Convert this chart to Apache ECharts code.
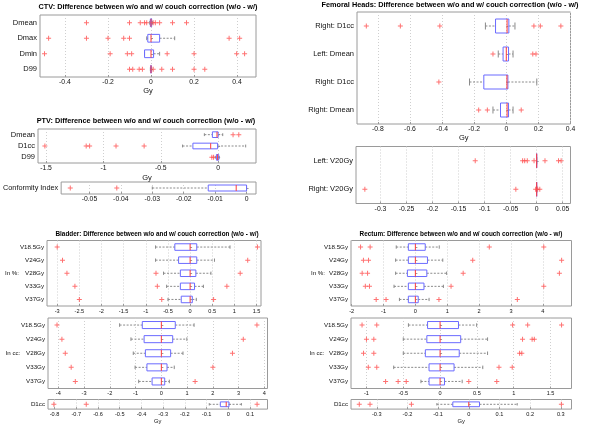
<!DOCTYPE html>
<html><head><meta charset="utf-8">
<script src="https://cdn.jsdelivr.net/npm/echarts@6/dist/echarts.min.js"></script>
<style>html,body{margin:0;padding:0;background:#fff}#c{width:600px;height:425px}</style>
</head><body><div id="c"></div>
<script>
// ---------------- DATA ----------------
// box rows: [lower whisker, Q1, median, Q3, upper whisker]
const ctvCats = ['Dmean', 'Dmax', 'Dmin', 'D99'];
const ctvBox = [
  [-0.006, -0.003, 0, 0.003, 0.006],
  [-0.02, -0.015, 0, 0.04, 0.11],
  [-0.03, -0.03, 0, 0.012, 0.04],
  [-0.003, -0.001, 0, 0.001, 0.003]
];
const ctvOut = [
  [-0.30, -0.10, -0.05, -0.03, -0.02, 0.01, 0.02, 0.04, 0.10, 0.165],
  [-0.476, -0.30, -0.20, -0.127, -0.10, 0.363, 0.412],
  [-0.495, -0.19, -0.11, -0.09, 0.075, 0.20, 0.398, 0.435],
  [-0.10, -0.085, -0.055, -0.04, 0.01, 0.05, 0.10, 0.20, 0.25]
];
const ctvTicks = [-0.4, -0.2, 0, 0.2, 0.4];

const ptvCats = ['Dmean', 'D1cc', 'D99'];
const ptvBox = [
  [-0.12, -0.05, -0.01, 0.0, 0.04],
  [-0.31, -0.22, -0.065, -0.005, 0.24],
  [-0.025, -0.015, -0.005, 0.005, 0.01]
];
const ptvOut = [
  [0.13, 0.18],
  [-1.51, -1.15, -1.12, -0.89, -0.645],
  [-0.055, -0.04]
];
const ptvTicks = [-1.5, -1, -0.5, 0];

const ciCats = ['Conformity Index'];
const ciBox = [[-0.03, -0.0122, -0.0033, 0, 0]];
const ciOut = [[-0.0561, -0.0413]];
const ciTicks = [-0.05, -0.04, -0.03, -0.02, -0.01, 0];

const volCats = ['V18.5Gy', 'V24Gy', 'V28Gy', 'V33Gy', 'V37Gy'];

const bladPctBox = [
  [-0.78, -0.345, 0, 0.15, 0.9],
  [-0.78, -0.26, 0, 0.15, 0.55],
  [-0.6, -0.22, 0, 0.13, 0.47],
  [-0.53, -0.22, 0, 0.1, 0.3],
  [-0.5, -0.2, 0, 0.05, 0.14]
];
const bladPctOut = [
  [-3.0, 1.52],
  [-2.88, 1.3],
  [-2.78, -0.77, 1.13],
  [-2.6, -0.74, 0.83],
  [-2.5, -0.64, 0.53]
];
const bladPctTicks = [-3, -2.5, -2, -1.5, -1, -0.5, 0, 0.5, 1, 1.5];

const bladCcBox = [
  [-1.62, -0.74, 0, 0.54, 1.27],
  [-1.18, -0.67, 0, 0.44, 0.99],
  [-1.09, -0.62, 0, 0.36, 0.84],
  [-1.02, -0.56, 0, 0.22, 0.5],
  [-0.88, -0.36, 0, 0.13, 0.31]
];
const bladCcOut = [
  [-4.05, 3.71],
  [-3.86, 3.18],
  [-3.73, 2.76],
  [-3.5, 2.0],
  [-3.34, 1.31]
];
const bladCcTicks = [-4, -3, -2, -1, 0, 1, 2, 3, 4];

const d1ccCats = ['D1cc'];
const bladD1Box = [[-0.088, -0.037, -0.01, 0.003, 0.06]];
const bladD1Out = [[-0.803, -0.654, 0.132]];
const bladD1Ticks = [-0.8, -0.7, -0.6, -0.5, -0.4, -0.3, -0.2, -0.1, 0, 0.1];

const femCats = ['Right: D1cc', 'Left: Dmean', 'Right: D1cc', 'Right: Dmean'];
const femBox = [
  [-0.13, -0.067, 0.005, 0.016, 0.054],
  [-0.05, -0.02, 0, 0.014, 0.042],
  [-0.229, -0.14, 0.004, 0.01, 0.19],
  [-0.083, -0.036, 0.005, 0.014, 0.042]
];
const femOut = [
  [-0.872, -0.66, -0.414, 0.172, 0.212, 0.34],
  [-0.083, 0.165, 0.185],
  [-0.42],
  [-0.172, -0.118, 0.093]
];
const femTicks = [-0.8, -0.6, -0.4, -0.2, 0, 0.2, 0.4];

const v20Cats = ['Left: V20Gy', 'Right: V20Gy'];
const v20Box = [[0, 0, 0, 0, 0], [0, 0, 0, 0, 0]];
const v20Out = [
  [-0.118, -0.027, -0.023, -0.018, -0.005, 0.016, 0.042, 0.047],
  [-0.33, -0.04, -0.002, 0.002, 0.006]
];
const v20Ticks = [-0.3, -0.25, -0.2, -0.15, -0.1, -0.05, 0, 0.05];

const recPctBox = [
  [-0.6, -0.22, 0, 0.31, 0.75],
  [-0.62, -0.22, 0, 0.38, 0.86],
  [-0.62, -0.25, 0, 0.36, 0.98],
  [-0.67, -0.22, 0, 0.27, 0.88],
  [-0.5, -0.22, 0, 0.09, 0.43]
];
const recPctOut = [
  [-1.72, -1.42, 2.32, 4.03],
  [-1.63, -1.47, 1.8, 4.59],
  [-1.67, -1.5, 1.5, 4.52],
  [-1.57, -1.44, 1.12, 4.03],
  [-1.23, -0.92, 0.74, 3.2]
];
const recPctTicks = [-2, -1, 0, 1, 2, 3, 4];

const recCcBox = [
  [-0.43, -0.17, 0, 0.25, 0.497],
  [-0.5, -0.18, 0, 0.28, 0.645],
  [-0.5, -0.2, 0, 0.26, 0.645],
  [-0.63, -0.15, 0, 0.19, 0.58],
  [-0.26, -0.15, 0, 0.06, 0.3]
];
const recCcOut = [
  [-1.06, -0.86, 0.985, 1.19, 1.65],
  [-1.0, -0.9, 1.12, 1.25, 1.28],
  [-1.04, -0.9, 1.08, 1.11],
  [-0.975, -0.86, 0.8, 0.98],
  [-0.74, -0.57, -0.46, 0.39, 0.77]
];
const recCcTicks = [-1, -0.5, 0, 0.5, 1, 1.5];

const recD1Box = [[-0.104, -0.052, 0, 0.035, 0.158]];
const recD1Out = [[-0.357, -0.322, -0.187, 0.302]];
const recD1Ticks = [-0.3, -0.2, -0.1, 0, 0.1, 0.2, 0.3];

const titles = [
  'CTV: Difference between w/o and w/ couch correction (w/o - w/)',
  'PTV: Difference between w/o and w/ couch correction (w/o - w/)',
  'Bladder: Difference between w/o and w/ couch correction (w/o - w/)',
  'Femoral Heads: Difference between w/o and w/ couch correction (w/o - w/)',
  'Rectum: Difference between w/o and w/ couch correction (w/o - w/)'
];
const unitName = 'Gy';

// ---------------- LAYOUT ----------------
const FONT = '"Liberation Sans", Arial, sans-serif';
const panels = [
  {cats: ctvCats, box: ctvBox, out: ctvOut, ticks: ctvTicks, min: -0.516, max: 0.488, r: [40, 15, 256, 77], cf: 7.5, tf: 6.8, name: true, gap: 10},
  {cats: ptvCats, box: ptvBox, out: ptvOut, ticks: ptvTicks, min: -1.57, max: 0.33, r: [38, 129, 256, 163], cf: 7.5, tf: 6.8, name: true, gap: 11},
  {cats: ciCats, box: ciBox, out: ciOut, ticks: ciTicks, min: -0.059, max: 0.003, r: [57, 182, 256, 194], cf: 7.3, tf: 6.8},
  {cats: volCats, box: bladPctBox, out: bladPctOut, ticks: bladPctTicks, min: -3.23, max: 1.6, r: [47, 240.5, 261, 306], cf: 6.2, tf: 5.6},
  {cats: volCats, box: bladCcBox, out: bladCcOut, ticks: bladCcTicks, min: -4.4, max: 4.12, r: [48, 318, 267.5, 388.5], cf: 6.2, tf: 5.6},
  {cats: d1ccCats, box: bladD1Box, out: bladD1Out, ticks: bladD1Ticks, min: -0.83, max: 0.18, r: [48, 399.5, 267.5, 410.5], cf: 6.2, tf: 5.6, name: true, gap: 8.5, nf: 5.8},
  {cats: femCats, box: femBox, out: femOut, ticks: femTicks, min: -0.93, max: 0.4, r: [357, 12, 570.5, 124], cf: 7.5, tf: 6.8, name: true, gap: 9},
  {cats: v20Cats, box: v20Box, out: v20Out, ticks: v20Ticks, min: -0.347, max: 0.065, r: [356, 146.5, 570.5, 203.5], cf: 7.5, tf: 6.8},
  {cats: volCats, box: recPctBox, out: recPctOut, ticks: recPctTicks, min: -2.02, max: 4.9, r: [351, 240.5, 571.5, 306], cf: 6.2, tf: 5.6},
  {cats: volCats, box: recCcBox, out: recCcOut, ticks: recCcTicks, min: -1.21, max: 1.785, r: [351, 318, 571.5, 388.5], cf: 6.2, tf: 5.6},
  {cats: d1ccCats, box: recD1Box, out: recD1Out, ticks: recD1Ticks, min: -0.384, max: 0.335, r: [351, 399.5, 571.5, 410.5], cf: 6.2, tf: 5.6, name: true, gap: 8, nf: 5.8}
];
const titlePos = [[148, 7, 7.3], [146, 121, 7.3], [157, 234, 6.4], [450, 5, 7.3], [461, 234, 6.4]];
const sideLabels = [['In %:', 12, 273.7], ['In cc:', 13, 353.3], ['In %:', 318, 273.7], ['In cc:', 317, 353.3]];

const BLUE = '#6b6bff', RED = '#ff3b3b', GRAY = '#8a8a8a';
function renderBox(params, api) {
  const c = api.value(0);
  const v = [1, 2, 3, 4, 5].map(i => api.value(i));
  const p = v.map(x => api.coord([x, c]));
  const band = api.size([0, 1])[1];
  const h = band * 0.5;
  const cy = p[0][1];
  const dash = {stroke: GRAY, lineWidth: 1, lineDash: [2, 1.5]};
  return {type: 'group', children: [
    {type: 'line', shape: {x1: p[0][0], y1: cy, x2: p[1][0], y2: cy}, style: dash},
    {type: 'line', shape: {x1: p[3][0], y1: cy, x2: p[4][0], y2: cy}, style: dash},
    {type: 'line', shape: {x1: p[0][0], y1: cy - h / 4, x2: p[0][0], y2: cy + h / 4}, style: {stroke: GRAY, lineWidth: 1}},
    {type: 'line', shape: {x1: p[4][0], y1: cy - h / 4, x2: p[4][0], y2: cy + h / 4}, style: {stroke: GRAY, lineWidth: 1}},
    {type: 'rect', shape: {x: p[1][0], y: cy - h / 2, width: p[3][0] - p[1][0], height: h}, style: {fill: 'none', stroke: BLUE, lineWidth: 1}},
    {type: 'line', shape: {x1: p[2][0], y1: cy - h / 2, x2: p[2][0], y2: cy + h / 2}, style: {stroke: RED, lineWidth: 1}}
  ]};
}

const grid = [], xAxis = [], yAxis = [], series = [];
panels.forEach((p, i) => {
  const [l, t, r, b] = p.r;
  grid.push({left: l, top: t, width: r - l, height: b - t, show: true, borderColor: '#9a9a9a', borderWidth: 1, backgroundColor: 'transparent'});
  xAxis.push({
    gridIndex: i, type: 'value', min: p.min, max: p.max,
    axisLine: {show: false},
    axisTick: {show: true, inside: true, length: 2, customValues: p.ticks, lineStyle: {color: '#9a9a9a'}},
    axisLabel: {customValues: p.ticks, fontSize: p.tf, fontFamily: FONT, color: '#111', margin: 2, formatter: v => String(v)},
    splitLine: {show: true, lineStyle: {type: [1, 2], color: '#cfcfcf', width: 1}},
    name: p.name ? unitName : '', nameLocation: 'middle', nameGap: p.gap || 10,
    nameTextStyle: {fontSize: p.nf || 7.5, fontFamily: FONT, color: '#111'}
  });
  yAxis.push({
    gridIndex: i, type: 'category', data: p.cats, inverse: true,
    axisLine: {show: false},
    axisTick: {show: true, inside: true, length: 2, alignWithLabel: true, lineStyle: {color: '#9a9a9a'}},
    axisLabel: {fontSize: p.cf, fontFamily: FONT, color: '#111', margin: 3},
    splitLine: {show: false}
  });
  series.push({
    type: 'custom', xAxisIndex: i, yAxisIndex: i, renderItem: renderBox,
    encode: {x: [1, 2, 3, 4, 5], y: 0}, silent: true, z: 2,
    data: p.box.map((bx, k) => [k].concat(bx))
  });
  const pts = [];
  p.out.forEach((arr, k) => arr.forEach(v => pts.push([v, k])));
  series.push({
    type: 'scatter', xAxisIndex: i, yAxisIndex: i, silent: true, z: 3,
    symbol: 'path://M4,0H6V4H10V6H6V10H4V6H0V4H4Z', symbolSize: 5,
    itemStyle: {color: '#ff4d4d'}, data: pts
  });
});

const graphics = [];
titles.forEach((t, i) => {
  const [x, y, fs] = titlePos[i];
  graphics.push({type: 'text', x: x, y: y, silent: true, style: {text: t, fontSize: fs, fontWeight: 'bold', fontFamily: FONT, fill: '#000', align: 'center', verticalAlign: 'middle'}});
});
sideLabels.forEach(s => {
  graphics.push({type: 'text', x: s[1], y: s[2], silent: true, style: {text: s[0], fontSize: 6.2, fontFamily: FONT, fill: '#111', align: 'center', verticalAlign: 'middle'}});
});

const chart = echarts.init(document.getElementById('c'), null, {renderer: 'canvas'});
chart.setOption({
  animation: false, backgroundColor: '#fff',
  grid, xAxis, yAxis, series, graphic: graphics
});
</script></body></html>
